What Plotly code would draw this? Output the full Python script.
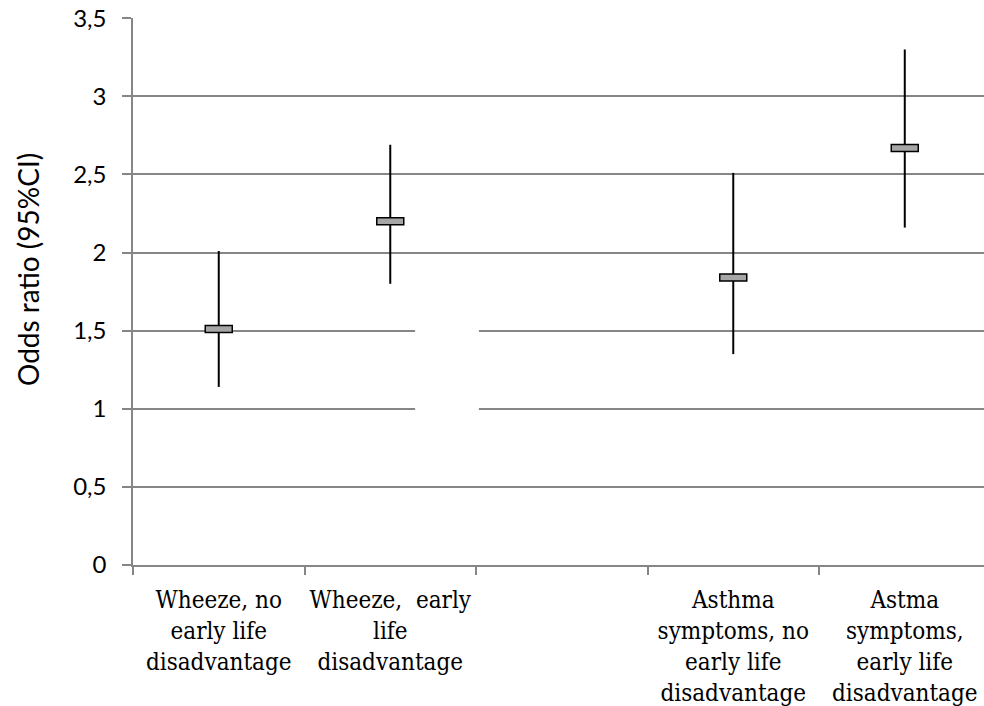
import plotly.graph_objects as go

categories = [
    "Wheeze, no<br>early life<br>disadvantage",
    "Wheeze,  early<br>life<br>disadvantage",
    " ",
    "Asthma<br>symptoms, no<br>early life<br>disadvantage",
    "Astma<br>symptoms,<br>early life<br>disadvantage",
]
high = [2.01, 2.69, None, 2.51, 3.30]
low = [1.14, 1.80, None, 1.35, 2.16]
close = [1.51, 2.20, None, 1.84, 2.67]
y_title = "Odds ratio (95%CI)"

fig = go.Figure()

lx, ly = [], []
for c, h, l in zip(categories, high, low):
    if h is None:
        continue
    lx += [c, c, None]
    ly += [l, h, None]
fig.add_trace(go.Scatter(x=lx, y=ly, mode="lines",
                         line=dict(color="black", width=2),
                         hoverinfo="skip", showlegend=False))

shapes = []
# white gap covering part of gridlines (as in the original)
shapes.append(dict(type="rect", xref="x", yref="y", x0=1.145, x1=1.517,
                   y0=0.75, y1=1.75, fillcolor="white", line=dict(width=0),
                   layer="between"))
for i, v in enumerate(close):
    if v is None:
        continue
    shapes.append(dict(type="rect", xref="x", yref="y",
                       xsizemode="pixel", ysizemode="pixel",
                       xanchor=i, yanchor=v,
                       x0=-13.5, x1=13.5, y0=-3.5, y1=3.5,
                       fillcolor="#a6a6a6", line=dict(color="black", width=1.5),
                       layer="above"))

fig.update_layout(
    width=984, height=706,
    margin=dict(l=133, r=0, t=18, b=141, autoexpand=False),
    plot_bgcolor="white", paper_bgcolor="white",
    separators=", ",
    shapes=shapes,
    showlegend=False,
    annotations=[dict(text=y_title, xref="paper", yref="paper",
                      x=-0.1234, y=0.541, xanchor="center", yanchor="middle",
                      textangle=-90, showarrow=False,
                      font=dict(family="Lato", size=28, color="black"))],
)
fig.update_xaxes(
    type="category", categoryorder="array", categoryarray=categories,
    range=[-0.5, 4.462], tickson="boundaries", tickangle=0, automargin=False,
    showline=True, linecolor="#868686", linewidth=1.5,
    ticks="outside", ticklen=8, tickcolor="#868686", tickwidth=1.5,
    showgrid=False, zeroline=False,
    ticklabelstandoff=12,
    tickfont=dict(family="DejaVu Serif Condensed", size=24, color="black"),
)
fig.update_yaxes(
    range=[0, 3.5015], dtick=0.5, tick0=0, automargin=False,
    ticklabeloverflow="allow",
    showline=True, linecolor="#868686", linewidth=1.5,
    ticks="outside", ticklen=9, tickcolor="#868686", tickwidth=1.5,
    showgrid=True, gridcolor="#868686", gridwidth=1.5, zeroline=False,
    ticklabelstandoff=11,
    tickfont=dict(family="Lato", size=24, color="black"),
)

fig.write_html("out.html",
               config={"displayModeBar": False},
               post_script="document.body.style.margin='0px';document.body.style.overflow='hidden';")
